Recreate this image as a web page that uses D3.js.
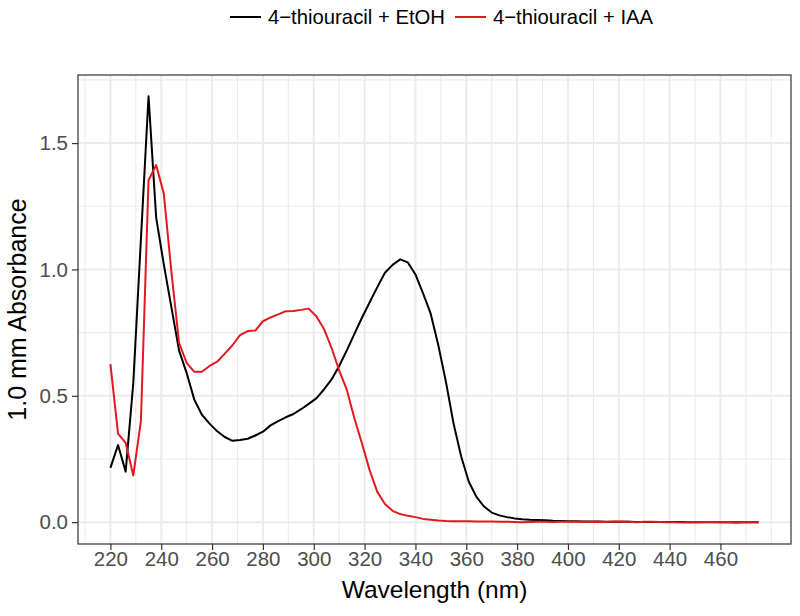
<!DOCTYPE html>
<html>
<head>
<meta charset="utf-8">
<script src="https://cdn.jsdelivr.net/npm/d3@7"></script>
<style>
  body { margin: 0; background: #fff; }
  svg text { font-family: "Liberation Sans", Arial, Helvetica, sans-serif; }
</style>
</head>
<body>
<svg id="chart" width="800" height="616"></svg>
<script>
// wavelength grid (nm)
var wavelength = [220,223,226,229,232,235,238,241,244,247,250,253,256,259,262,265,268,271,274,277,
  280,283,286,289,292,295,298,301,304,307,310,313,316,319,322,325,328,331,334,337,
  340,343,346,349,352,355,358,361,364,367,370,373,376,379,382,385,388,391,394,397,
  400,403,406,409,412,415,418,421,424,427,430,433,436,439,442,445,448,451,454,457,
  460,463,466,469,472,475];

// 4-thiouracil + EtOH
var absEtOH = [0.215,0.305,0.200,0.550,1.120,1.685,1.205,1.020,0.850,0.680,0.590,0.485,0.425,0.390,0.360,0.337,0.322,0.325,0.330,0.343,
  0.358,0.383,0.400,0.415,0.428,0.447,0.468,0.490,0.525,0.565,0.618,0.680,0.745,0.810,0.870,0.930,0.987,1.018,1.040,1.028,
  0.980,0.905,0.825,0.700,0.555,0.390,0.260,0.160,0.100,0.062,0.038,0.027,0.020,0.015,0.012,0.010,0.009,0.008,0.006,0.005,
  0.004,0.004,0.003,0.003,0.003,0.002,0.002,0.002,0.002,0.001,0.001,0.001,0.001,0.001,0.001,0.001,0.000,0.000,0.000,0.000,
  0.000,0.000,0.000,0.000,0.000,0.000];

// 4-thiouracil + IAA
var absIAA = [0.625,0.350,0.314,0.185,0.400,1.353,1.413,1.300,0.990,0.710,0.630,0.595,0.595,0.618,0.635,0.667,0.700,0.740,0.756,0.758,
  0.795,0.810,0.822,0.835,0.836,0.840,0.845,0.815,0.765,0.690,0.600,0.524,0.410,0.310,0.205,0.120,0.072,0.045,0.032,0.025,
  0.020,0.013,0.010,0.007,0.005,0.004,0.004,0.004,0.003,0.003,0.003,0.002,0.002,0.001,0.000,0.001,0.002,0.002,0.001,0.002,
  0.002,0.003,0.002,0.001,0.002,0.001,0.003,0.003,0.002,0.000,0.002,0.002,0.001,0.000,0.000,-0.001,0.000,0.000,0.001,0.001,
  0.000,0.001,-0.002,0.000,0.000,0.000];

var seriesNames = ["4\u2212thiouracil + EtOH", "4\u2212thiouracil + IAA"];
var seriesColors = ["#000000", "#E3191F"];
var xTicks = [220,240,260,280,300,320,340,360,380,400,420,440,460];
var xMinor = [210,230,250,270,290,310,330,350,370,390,410,430,450,470,480];
var yTicks = [0, 0.5, 1.0, 1.5];
var yMinor = [0.25, 0.75, 1.25, 1.75];

(function() {
  var svg = d3.select("#chart");
  var pLeft = 78, pRight = 791, pTop = 75, pBottom = 544;

  var series = [absEtOH, absIAA].map(function(vals, i) {
    return { name: seriesNames[i], color: seriesColors[i],
      values: vals.map(function(v, j) { return { x: wavelength[j], y: v }; }) };
  });

  // ggplot-like 5% expansion
  var xExt = d3.extent(wavelength);
  var xPad = (xExt[1] - xExt[0]) * 0.05;
  var yExt = d3.extent(absEtOH.concat(absIAA));
  var yPad = (yExt[1] - yExt[0]) * 0.05;

  var x = d3.scaleLinear().domain([xExt[0] - xPad, xExt[1] + xPad]).range([pLeft, pRight]);
  var y = d3.scaleLinear().domain([yExt[0] - yPad, yExt[1] + yPad]).range([pBottom, pTop]);

  // grid
  var grid = svg.append("g");
  function vgrid(vals, w) {
    grid.append("g").selectAll("line").data(vals).enter().append("line")
      .attr("x1", function(d) { return x(d); }).attr("x2", function(d) { return x(d); })
      .attr("y1", pTop).attr("y2", pBottom)
      .attr("stroke", "#EBEBEB").attr("stroke-width", w);
  }
  function hgrid(vals, w) {
    grid.append("g").selectAll("line").data(vals).enter().append("line")
      .attr("y1", function(d) { return y(d); }).attr("y2", function(d) { return y(d); })
      .attr("x1", pLeft).attr("x2", pRight)
      .attr("stroke", "#EBEBEB").attr("stroke-width", w);
  }
  vgrid(xMinor, 1.1);
  hgrid(yMinor, 1.1);
  vgrid(xTicks, 2);
  hgrid(yTicks, 2);

  // lines
  var line = d3.line()
    .x(function(d) { return x(d.x); })
    .y(function(d) { return y(d.y); });

  svg.append("g").selectAll("path")
    .data(series)
    .enter().append("path")
    .attr("d", function(d) { return line(d.values); })
    .attr("fill", "none")
    .attr("stroke", function(d) { return d.color; })
    .attr("stroke-width", 2)
    .attr("stroke-linejoin", "round");

  // panel border
  svg.append("rect")
    .attr("x", pLeft).attr("y", pTop)
    .attr("width", pRight - pLeft).attr("height", pBottom - pTop)
    .attr("fill", "none").attr("stroke", "#333333").attr("stroke-width", 1.2);

  // axes
  var xAxis = svg.append("g")
    .attr("transform", "translate(0," + pBottom + ")")
    .call(d3.axisBottom(x).tickValues(xTicks).tickSize(6).tickPadding(1).tickFormat(d3.format("d")));
  var yAxis = svg.append("g")
    .attr("transform", "translate(" + pLeft + ",0)")
    .call(d3.axisLeft(y).tickValues(yTicks).tickSize(6).tickPadding(4).tickFormat(d3.format(".1f")));

  [xAxis, yAxis].forEach(function(a) {
    a.select(".domain").remove();
    a.selectAll(".tick line").attr("stroke", "#333333").attr("stroke-width", 1.2);
    a.selectAll(".tick text").attr("fill", "#4D4D4D").style("font-size", "20.5px");
  });

  // axis titles
  svg.append("text")
    .attr("x", (pLeft + pRight) / 2).attr("y", 598)
    .attr("text-anchor", "middle")
    .style("font-size", "24.5px")
    .text("Wavelength (nm)");

  svg.append("text")
    .attr("transform", "translate(26," + ((pTop + pBottom) / 2) + ") rotate(-90)")
    .attr("text-anchor", "middle")
    .style("font-size", "25px")
    .text("1.0 mm Absorbance");

  // legend
  var legendX = [230, 455];
  var item = svg.append("g").selectAll("g").data(series).enter().append("g")
    .attr("transform", function(d, i) { return "translate(" + legendX[i] + ",17)"; });
  item.append("line")
    .attr("x1", 0).attr("x2", 31).attr("y1", 0).attr("y2", 0)
    .attr("stroke", function(d) { return d.color; })
    .attr("stroke-width", 2);
  item.append("text")
    .attr("x", 38).attr("y", 7)
    .style("font-size", "20.3px")
    .text(function(d) { return d.name; });
})();
</script>
</body>
</html>
